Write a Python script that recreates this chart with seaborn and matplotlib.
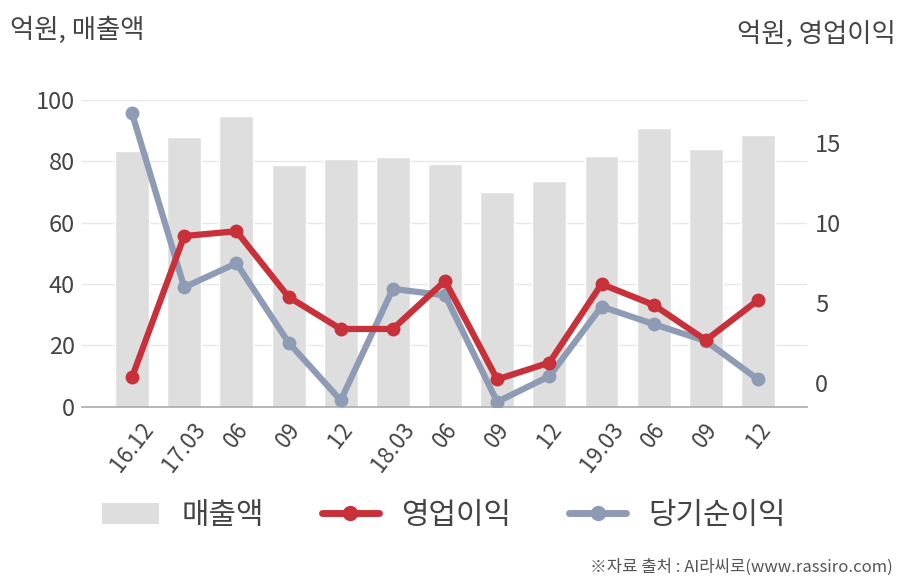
import matplotlib
matplotlib.use("Agg")
import matplotlib.pyplot as plt
import seaborn as sns
import numpy as np
import pandas as pd
from matplotlib.patches import Patch
from matplotlib.lines import Line2D

# ---- data ----
periods = ['16.12', '17.03', '17.06', '17.09', '17.12', '18.03', '18.06',
           '18.09', '18.12', '19.03', '19.06', '19.09', '19.12']
tick_labels = ['16.12', '17.03', '06', '09', '12', '18.03', '06', '09', '12',
               '19.03', '06', '09', '12']
sales = [83.2, 87.7, 94.6, 78.7, 80.8, 81.3, 78.9, 69.9, 73.5, 81.6, 90.9, 83.9, 88.4]
op_income = [0.4, 9.2, 9.5, 5.4, 3.4, 3.4, 6.4, 0.25, 1.3, 6.2, 4.9, 2.7, 5.2]
net_income = [16.85, 6.0, 7.5, 2.55, -1.05, 5.9, 5.5, -1.15, 0.45, 4.8, 3.7, 2.65, 0.25]

bar_color = '#dedede'
red = '#c8303a'
blue = '#8e9bb5'
txt = '#444444'

sns.set_style('white')
plt.rcParams['font.family'] = ['Noto Sans CJK KR', 'DejaVu Sans']

df = pd.DataFrame({'period': periods, 'sales': sales, 'op': op_income, 'net': net_income})

fig = plt.figure(figsize=(9.08, 5.8), dpi=100)
ax = fig.add_axes([0.0903, 0.2983, 0.7985, 0.5301])

sns.barplot(data=df, x='period', y='sales', ax=ax, color=bar_color,
            saturation=1, width=0.65, order=periods)
ax.set_ylim(0, 100)
ax.set_yticks([0, 20, 40, 60, 80, 100])
ax.set_axisbelow(True)
ax.grid(axis='y', color='#e8e8e8', linewidth=1)
ax.grid(axis='x', visible=False)

ax2 = ax.twinx()
sns.pointplot(data=df, x='period', y='net', ax=ax2, color=blue, order=periods,
              errorbar=None, linewidth=4.5, markersize=10, markeredgewidth=0)
sns.pointplot(data=df, x='period', y='op', ax=ax2, color=red, order=periods,
              errorbar=None, linewidth=4.5, markersize=10, markeredgewidth=0)
ax2.set_ylim(-1.47, 17.72)
ax2.set_yticks([0, 5, 10, 15])
ax2.grid(False)
ax2.set_ylabel('')
ax2.set_xlabel('')

ax.set_xlim(-0.96, 12.94)
ax.set_xticks(range(len(periods)))
ax.set_xticklabels(tick_labels, rotation=52, ha='center', va='top',
                   fontsize=16, color=txt)
ax.set_xlabel('')
ax.set_ylabel('')
ax.tick_params(axis='y', length=0, labelsize=17, labelcolor=txt, pad=5)
ax.tick_params(axis='x', length=0, pad=8)
ax2.tick_params(axis='y', length=0, labelsize=17, labelcolor=txt, pad=6)
ax2.tick_params(axis='x', length=0, labelbottom=False, bottom=False)

for a in (ax, ax2):
    for s in ('top', 'left', 'right', 'bottom'):
        a.spines[s].set_visible(False)
ax.spines['bottom'].set_visible(True)
ax.spines['bottom'].set_color('#aaaaaa')
ax.spines['bottom'].set_linewidth(1.2)

fig.text(10 / 908, 1 - 30 / 580, '억원, 매출액', ha='left', va='center',
         fontsize=19, color=txt)
fig.text(896 / 908, 1 - 34 / 580, '억원, 영업이익', ha='right', va='center',
         fontsize=19, color=txt)
fig.text(893 / 908, 1 - 567 / 580, '※자료 출처 : AI라씨로(www.rassiro.com)',
         ha='right', va='center', fontsize=12, color='#555555')

handles = [Patch(facecolor=bar_color, edgecolor='none'),
           Line2D([0], [0], color=red, lw=5, marker='o', markersize=10),
           Line2D([0], [0], color=blue, lw=5, marker='o', markersize=10)]
fig.legend(handles, ['매출액', '영업이익', '당기순이익'], loc='center',
           bbox_to_anchor=(444 / 908, 1 - 515 / 580), ncol=3, frameon=False,
           fontsize=21.5, handlelength=1.9, handletextpad=0.75, columnspacing=1.95,
           labelcolor=txt)

fig.savefig('out.png', dpi=100)
